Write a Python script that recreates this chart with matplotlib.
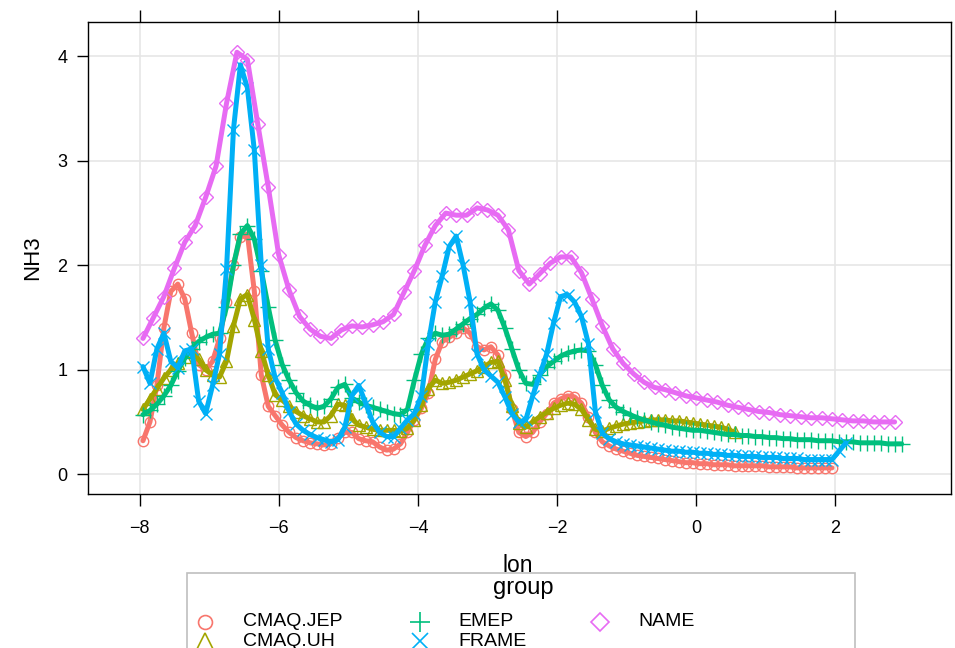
import numpy as np
import matplotlib
matplotlib.use("Agg")
import matplotlib.pyplot as plt
from matplotlib.lines import Line2D
from matplotlib.patches import Rectangle

plt.rcParams['font.family'] = ['Liberation Sans', 'DejaVu Sans']
plt.rcParams['axes.unicode_minus'] = True

# ---------------- data (lon grids start / step) -----
name_lon0, name_step = -7.95, 0.15
name_vals = [1.30, 1.50, 1.70, 1.97, 2.22, 2.38, 2.65, 2.95, 3.55, 4.04,
             3.97, 3.35, 2.75, 2.10, 1.76, 1.51, 1.39, 1.32, 1.30, 1.38,
             1.42, 1.41, 1.43, 1.46, 1.53, 1.74, 1.95, 2.19, 2.38, 2.50,
             2.48, 2.48, 2.55, 2.53, 2.48, 2.34, 1.95, 1.82, 1.92, 2.02,
             2.08, 2.08, 1.93, 1.68, 1.42, 1.20, 1.06, 0.96, 0.88, 0.83,
             0.81, 0.78, 0.75, 0.73, 0.71, 0.69, 0.66, 0.64, 0.62, 0.60,
             0.59, 0.57, 0.56, 0.55, 0.54, 0.54, 0.53, 0.52, 0.51, 0.51,
             0.50, 0.50, 0.50]

emep_lon0, emep_step = -7.95, 0.1
emep_vals = [0.57, 0.61, 0.67, 0.75, 0.85, 0.99, 1.11, 1.20, 1.27, 1.31,
             1.34, 1.35, 1.60, 2.00, 2.30, 2.38, 2.25, 1.95, 1.60, 1.28,
             1.05, 0.90, 0.78, 0.70, 0.66, 0.63, 0.65, 0.72, 0.83, 0.86,
             0.73, 0.69, 0.66, 0.64, 0.62, 0.60, 0.58, 0.57, 0.62, 0.90,
             1.15, 1.30, 1.35, 1.33, 1.34, 1.39, 1.44, 1.49, 1.53, 1.59,
             1.63, 1.57, 1.40, 1.20, 1.00, 0.87, 0.86, 0.95, 1.03, 1.08,
             1.13, 1.16, 1.18, 1.19, 1.18, 1.05, 0.85, 0.71, 0.64, 0.60,
             0.57, 0.54, 0.52, 0.50, 0.48, 0.47, 0.45, 0.44, 0.43, 0.42,
             0.42, 0.41, 0.40, 0.39, 0.38, 0.38, 0.37, 0.37, 0.36, 0.36,
             0.35, 0.35, 0.34, 0.34, 0.33, 0.33, 0.33, 0.32, 0.32, 0.32,
             0.31, 0.31, 0.31, 0.30, 0.30, 0.30, 0.30, 0.29, 0.29, 0.29]

frame_lon0, frame_step = -7.95, 0.1
frame_vals = [1.03, 0.87, 1.20, 1.35, 1.08, 1.02, 1.18, 1.20, 0.70, 0.58,
              0.85, 1.15, 1.96, 3.30, 3.92, 3.70, 3.10, 2.00, 1.20, 0.92,
              0.78, 0.60, 0.48, 0.42, 0.38, 0.35, 0.33, 0.31, 0.33, 0.45,
              0.75, 0.85, 0.68, 0.50, 0.40, 0.36, 0.36, 0.44, 0.52, 0.58,
              0.75, 1.25, 1.65, 1.90, 2.18, 2.28, 2.00, 1.65, 1.15, 1.00,
              0.94, 0.88, 0.74, 0.58, 0.50, 0.52, 0.75, 0.95, 1.15, 1.45,
              1.70, 1.72, 1.65, 1.51, 1.25, 0.60, 0.39, 0.34, 0.31, 0.29,
              0.28, 0.27, 0.26, 0.25, 0.24, 0.23, 0.22, 0.22, 0.21, 0.21,
              0.20, 0.20, 0.19, 0.19, 0.18, 0.18, 0.17, 0.17, 0.17, 0.16,
              0.16, 0.16, 0.15, 0.15, 0.15, 0.14, 0.14, 0.14, 0.14, 0.14,
              0.22, 0.30]

jep_lon0, jep_step = -7.95, 0.1
jep_vals = [0.32, 0.50, 0.85, 1.40, 1.75, 1.82, 1.68, 1.35, 1.05, 1.00,
            1.08, 1.30, 1.65, 2.00, 2.27, 2.30, 1.75, 0.95, 0.65, 0.56,
            0.47, 0.40, 0.35, 0.32, 0.30, 0.29, 0.28, 0.29, 0.35, 0.40,
            0.40, 0.34, 0.32, 0.31, 0.26, 0.23, 0.24, 0.29, 0.40, 0.52,
            0.63, 0.78, 1.10, 1.27, 1.31, 1.35, 1.40, 1.35, 1.22, 1.19,
            1.22, 1.14, 0.95, 0.62, 0.40, 0.36, 0.40, 0.50, 0.58, 0.68,
            0.72, 0.75, 0.74, 0.68, 0.55, 0.40, 0.31, 0.27, 0.24, 0.22,
            0.20, 0.18, 0.17, 0.16, 0.15, 0.14, 0.13, 0.12, 0.11, 0.11,
            0.10, 0.10, 0.09, 0.09, 0.09, 0.08, 0.08, 0.08, 0.08, 0.08,
            0.07, 0.07, 0.07, 0.07, 0.06, 0.06, 0.06, 0.06, 0.06, 0.06]

uh_lon0, uh_step = -7.95, 0.1
uh_vals = [0.62, 0.72, 0.82, 0.92, 1.00, 1.06, 1.12, 1.18, 1.10, 1.00,
           0.95, 0.93, 1.08, 1.42, 1.68, 1.72, 1.48, 1.18, 0.95, 0.76,
           0.71, 0.65, 0.60, 0.56, 0.53, 0.50, 0.50, 0.56, 0.67, 0.66,
           0.53, 0.47, 0.45, 0.43, 0.42, 0.42, 0.42, 0.41, 0.44, 0.52,
           0.66, 0.82, 0.90, 0.87, 0.88, 0.90, 0.93, 0.96, 0.99, 1.03,
           1.07, 1.08, 0.90, 0.65, 0.49, 0.45, 0.50, 0.55, 0.59, 0.63,
           0.66, 0.68, 0.67, 0.62, 0.52, 0.43, 0.41, 0.44, 0.46, 0.48,
           0.49, 0.50, 0.51, 0.52, 0.52, 0.52, 0.51, 0.51, 0.50, 0.49,
           0.48, 0.47, 0.46, 0.45, 0.43, 0.40]

groups = ["CMAQ.JEP", "CMAQ.UH", "EMEP", "FRAME", "NAME"]
colors = ["#F8766D", "#A3A500", "#00BF7D", "#00B0F6", "#E76BF3"]
markers = ["o", "^", "+", "x", "D"]
series = [(jep_lon0, jep_step, jep_vals), (uh_lon0, uh_step, uh_vals),
          (emep_lon0, emep_step, emep_vals), (frame_lon0, frame_step, frame_vals),
          (name_lon0, name_step, name_vals)]
xticks = [-8, -6, -4, -2, 0, 2]
yticks = [0, 1, 2, 3, 4]

# ---------------- figure ----------------
W, H = 955, 648
fig = plt.figure(figsize=(W / 100, H / 100), dpi=100)
ax = fig.add_axes([88 / W, 1 - 494 / H, (951 - 88) / W, (494 - 22) / H])

msize = {"o": 7.5, "^": 8, "+": 11, "x": 9, "D": 7}
for (lon0, step, vals), c, m in zip(series, colors, markers):
    lon = np.round(lon0 + step * np.arange(len(vals)), 3)
    ax.plot(lon, vals, linestyle="none", marker=m, markersize=msize[m],
            markerfacecolor="none", markeredgecolor=c, markeredgewidth=1.0)
    ax.plot(lon, vals, color=c, linewidth=3.6, solid_capstyle="round",
            solid_joinstyle="round")

ax.set_xlim(-8.74, 3.66)
ax.set_ylim(-0.19, 4.33)
ax.set_xticks(xticks)
ax.set_yticks(yticks)
ax.grid(True, color="#E6E6E6", linewidth=1.2)
ax.set_axisbelow(True)
ax.tick_params(axis="x", top=True, direction="out", length=8.6, width=1,
               labelsize=13, pad=10)
ax.tick_params(axis="y", right=False, direction="out", length=8, width=1,
               labelsize=13, pad=7)
for s in ax.spines.values():
    s.set_linewidth(1.0)
    s.set_color("black")
ax.set_ylabel("NH3", fontsize=16, labelpad=10)

# ---------------- legend (drawn manually, cut off at bottom) ----------------
rect = Rectangle((187 / W, 1 - 700 / H), (855 - 187) / W, (700 - 573) / H,
                 transform=fig.transFigure, facecolor="white",
                 edgecolor="#BFBFBF", linewidth=1.2, clip_on=False, zorder=1)
fig.add_artist(rect)
fig.text(518 / W, 1 - 572 / H, "lon", ha="center", va="baseline",
         fontsize=16.5, zorder=5)
fig.text(523 / W, 1 - 588 / H, "group", ha="center", va="center",
         fontsize=17, zorder=5)
pos = [(205, 622), (205, 641), (420, 622), (420, 641), (600, 622)]
lsize = {"o": 10, "^": 11, "+": 15, "x": 12, "D": 9}
for g, c, m, (px, py) in zip(groups, colors, markers, pos):
    fig.add_artist(Line2D([px / W], [1 - py / H], transform=fig.transFigure,
                          marker=m, markersize=lsize[m], markerfacecolor="none",
                          markeredgecolor=c, markeredgewidth=1.2, linestyle="none",
                          zorder=5))
    fig.text((px + 38) / W, 1 - py / H, g, ha="left", va="center",
             fontsize=14, zorder=5)

fig.savefig("out.png", dpi=100)
